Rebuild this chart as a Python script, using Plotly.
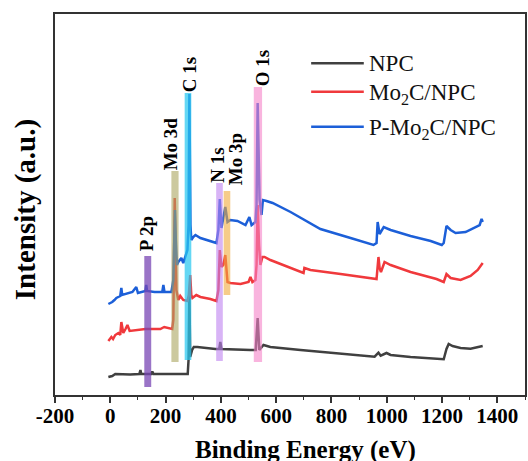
import plotly.graph_objects as go

# ---------------- data ----------------
npc_x = [-7, 7, 18, 72, 105, 109, 112, 148, 152, 156, 217, 280, 283, 286, 289, 296, 302, 315, 380, 394,
         398, 402, 507, 526, 533, 539, 554, 579, 688, 797, 905, 956, 970, 978, 999, 1014, 1086, 1195, 1206, 1216,
         1224, 1238, 1267, 1303, 1347]
npc_y = [18, 19, 21, 20.5, 21, 25, 21, 21, 23.5, 21, 21, 21, 35, 103, 38, 45, 48, 48, 46, 46,
         53, 46, 45, 45, 77, 45, 50, 48, 45, 42.3, 40, 38.3, 42.3, 39.3, 42, 40, 38, 36, 35.7, 46,
         51, 49, 47, 46.3, 49]

red_x = [-7, 4, 10, 18, 29, 36, 40, 47, 55, 62, 70, 91, 127, 181, 195, 224, 228, 233, 236, 239,
         246, 253, 264, 279, 284, 289, 293, 297, 311, 326, 362, 384, 391, 396, 402, 409, 416, 424, 434, 471,
         500, 507, 514, 525, 529, 533, 538, 543, 550, 558, 579, 652, 699, 702, 724, 833, 949, 963, 970, 974,
         979, 992, 1014, 1086, 1180, 1206, 1216, 1231, 1267, 1303, 1329, 1347]
red_y = [54, 58, 56, 60, 62, 60, 73, 62, 66, 70, 64, 65, 66, 66, 68, 66, 75, 197, 125, 105,
         95, 99, 95, 94, 100, 120, 100, 97, 100, 98, 96, 94, 105, 145, 128, 130, 140, 113, 112, 111,
         113, 118, 113, 115, 130, 190, 150, 130, 138, 138, 135, 127, 122, 127, 125, 121, 116, 116, 138, 127,
         123, 133, 130, 123, 116, 113, 121, 117, 115, 119, 125, 132]

blue_x = [-7, 7, 15, 22, 36, 40, 43, 55, 62, 80, 94, 100, 127, 130, 133, 160, 188, 192, 196, 221,
          228, 234, 237, 241, 246, 257, 264, 279, 283, 286, 290, 293, 300, 308, 326, 348, 362, 384, 391, 396,
          402, 406, 416, 424, 434, 460, 489, 503, 511, 525, 529, 533, 537, 540, 547, 552, 565, 587, 652, 760,
          869, 952, 963, 967, 974, 989, 1014, 1086, 1159, 1199, 1206, 1216, 1231, 1249, 1285, 1318, 1336, 1343, 1347]
blue_y = [91, 93, 95, 97, 99, 107, 100, 101, 102, 103, 108, 102, 104, 110, 104, 103, 103, 110, 103, 103,
          115, 185, 155, 130, 133, 137, 132, 145, 170, 301, 170, 155, 158, 160, 157, 155, 154, 152, 165, 196,
          167, 173, 188, 173, 175, 174, 170, 178, 170, 173, 190, 292, 215, 195, 180, 195, 194, 192, 183, 166,
          157, 150, 152, 173, 161, 168, 165, 159, 154, 150, 152, 169, 165, 162, 163, 167, 170, 176, 173]

series_names = ["NPC", "Mo<sub>2</sub>C/NPC", "P-Mo<sub>2</sub>C/NPC"]

# highlighted peak regions
peak_labels = ["P 2p", "Mo 3d", "C 1s", "N 1s", "Mo 3p", "O 1s"]
peak_x0 = [123, 221, 269, 383, 410, 519]
peak_x1 = [148, 247, 293, 407, 434, 549]
peak_y0 = [8, 33, 35, 34, 100, 33]
peak_y1 = [139, 224, 302, 212, 204, 308]
label_x = [132, 219, 287, 387, 452, 550]
label_y = [143, 224, 302, 211, 209, 308]

tick_vals = [-200, 0, 200, 400, 600, 800, 1000, 1200, 1400]
tick_text = ["-200", "0", "200", "400", "600", "800", "1000", "1200", "1400"]

# ---------------- styles ----------------
line_colors = ["#404040", "#f0393c", "#1c5fd8"]
band_colors = ["rgba(120,70,180,0.75)", "rgba(170,165,95,0.6)", "rgba(40,200,240,0.72)",
               "rgba(190,130,240,0.6)", "rgba(240,170,60,0.6)", "rgba(245,130,200,0.6)"]
FONT = "Liberation Serif"

fig = go.Figure()
for xs, ys, name, col in zip([npc_x, red_x, blue_x], [npc_y, red_y, blue_y], series_names, line_colors):
    fig.add_trace(go.Scatter(x=xs, y=ys, mode="lines", name=name, showlegend=False,
                             line=dict(color=col, width=2.5)))

for lab, x0, x1, y0, y1, c, lx, ly in zip(peak_labels, peak_x0, peak_x1, peak_y0, peak_y1,
                                          band_colors, label_x, label_y):
    fig.add_shape(type="rect", xref="x", yref="y", x0=x0, x1=x1, y0=y0, y1=y1,
                  fillcolor=c, line=dict(width=0), layer="above")
    fig.add_annotation(x=lx, y=ly, xref="x", yref="y", text="<b>%s</b>" % lab, textangle=-90,
                       showarrow=False, xanchor="center", yanchor="bottom",
                       font=dict(family=FONT, size=19, color="black"), borderpad=0)

# custom legend
leg_y_line = [0.871, 0.796, 0.704]
leg_y_text = [0.871, 0.789, 0.697]
for name, col, yl, yt in zip(series_names, line_colors, leg_y_line, leg_y_text):
    fig.add_shape(type="line", xref="paper", yref="paper", x0=0.545, x1=0.657, y0=yl, y1=yl,
                  line=dict(color=col, width=2.5))
    fig.add_annotation(x=0.665, y=yt, xref="paper", yref="paper", text=name, showarrow=False,
                       xanchor="left", yanchor="middle", font=dict(family=FONT, size=23, color="#111"),
                       borderpad=0)

# axis titles
fig.add_annotation(x=0.534, y=-0.145, xref="paper", yref="paper", text="<b>Binding Energy (eV)</b>",
                   showarrow=False, xanchor="center", yanchor="middle",
                   font=dict(family=FONT, size=25, color="black"))
fig.add_annotation(x=-0.061, y=0.486, xref="paper", yref="paper", text="<b>Intensity (a.u.)</b>",
                   textangle=-90, showarrow=False, xanchor="center", yanchor="middle",
                   font=dict(family=FONT, size=29, color="black"))

fig.update_layout(
    width=528, height=461,
    margin=dict(l=55, r=1, t=14, b=66),
    paper_bgcolor="white", plot_bgcolor="white",
    font=dict(family=FONT, color="black"),
)
fig.update_xaxes(range=[-200, 1500], showgrid=False, zeroline=False,
                 showline=True, linecolor="#333", linewidth=1.5, mirror=True,
                 ticks="outside", ticklen=6, tickwidth=1.5, tickcolor="#333",
                 tickvals=tick_vals, ticktext=tick_text, ticklabelstandoff=-5,
                 tickfont=dict(family=FONT, size=21, weight="bold", color="black"),
                 minor=dict(dtick=100, ticks="outside", ticklen=3, tickwidth=1.2, tickcolor="#333"))
fig.update_yaxes(range=[0, 381], showgrid=False, zeroline=False,
                 showline=True, linecolor="#333", linewidth=1.5, mirror=True,
                 showticklabels=False, ticks="")

fig.write_html("out.html")
